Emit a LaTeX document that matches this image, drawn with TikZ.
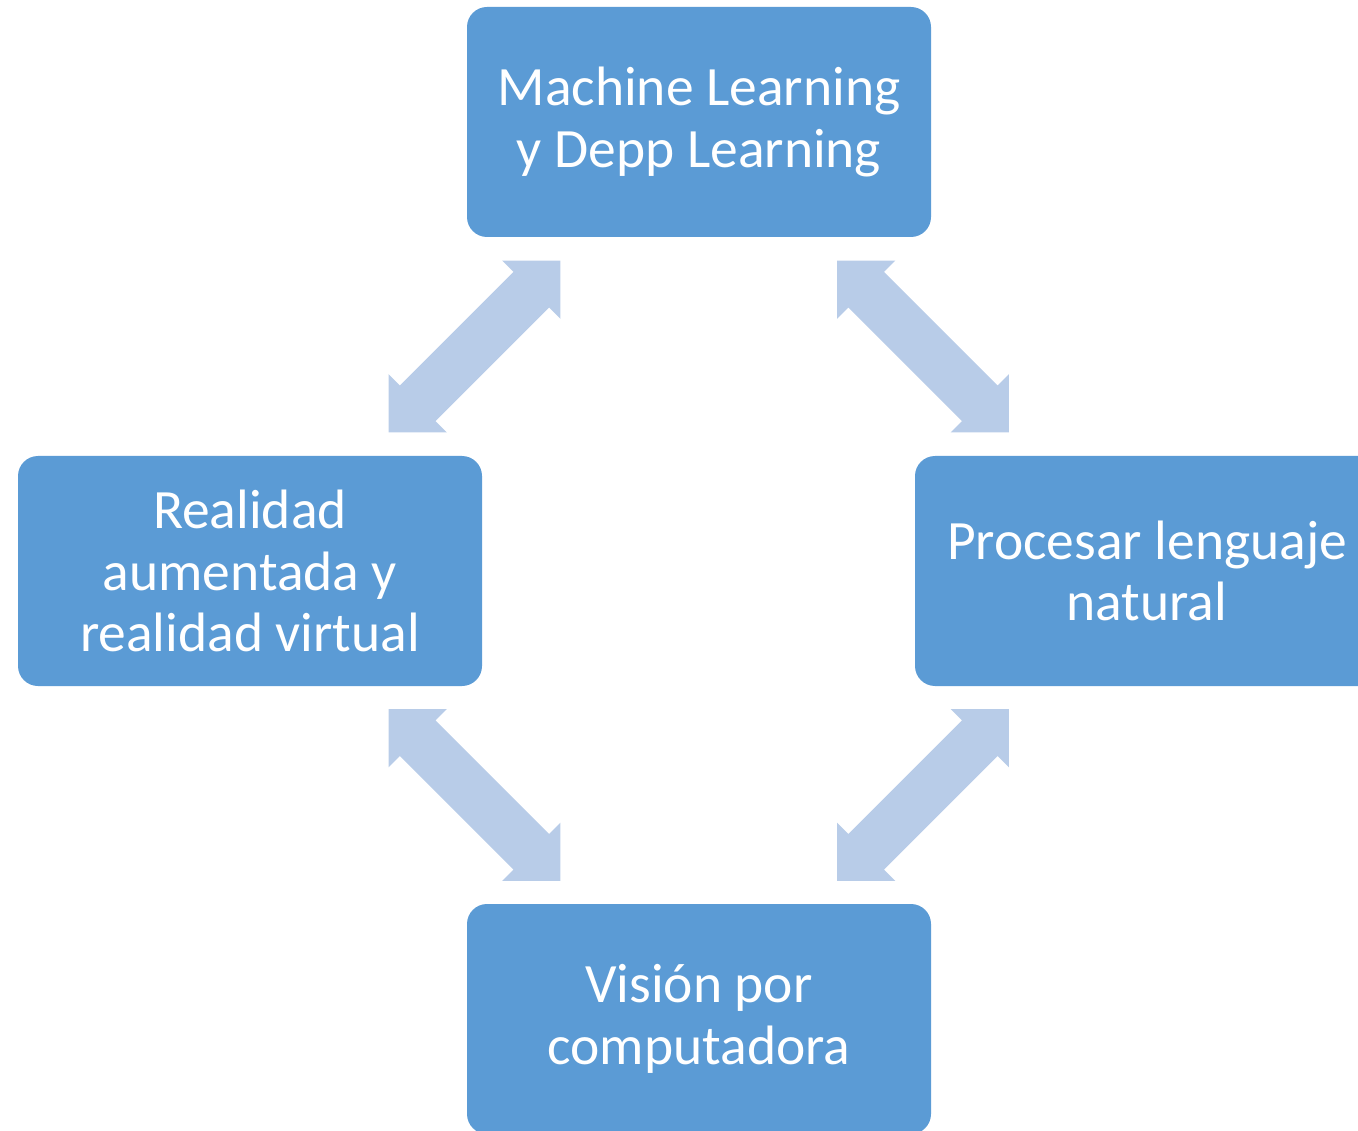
\documentclass[tikz,border=0pt]{standalone}
\usepackage{fontspec}
\setmainfont{Carlito}
\usetikzlibrary{shapes.arrows,calc}
\definecolor{boxblue}{HTML}{5B9BD5}
\definecolor{arrowblue}{HTML}{B8CCE8}
\tikzset{
  box/.style={fill=boxblue, draw=none, rounded corners=20pt,
    minimum width=464pt, minimum height=230pt, inner sep=0pt,
    text=white, align=center, font=\fontsize{55.5}{61.5}\selectfont},
  dblarrow/.style={double arrow, fill=arrowblue, draw=none,
    text height=25pt, text depth=25pt, text width=0pt, minimum height=243pt,
    double arrow head extend=16pt, double arrow tip angle=90, inner sep=0pt}
}
\begin{document}
\begin{tikzpicture}[x=1pt,y=-1pt]
\useasboundingbox (0,0) rectangle (1358,1131);
\clip (0,0) rectangle (1358,1131);
\node[box] (ml) at (699,122) {Machine Learning\\y Depp Learning};
\node[box] (ra) at (250,571) {Realidad\\aumentada y\\realidad virtual};
\node[box] (pl) at (1147,571) {Procesar lenguaje\\natural};
\node[box] (vc) at (699,1019) {Visión por\\computadora};
\node[dblarrow, rotate=45] (a1) at ($(ml)!0.5!(ra)$) {};
\node[dblarrow, rotate=-45] (a2) at ($(ml)!0.5!(pl)$) {};
\node[dblarrow, rotate=-45] (a3) at ($(ra)!0.5!(vc)$) {};
\node[dblarrow, rotate=45] (a4) at ($(pl)!0.5!(vc)$) {};
\end{tikzpicture}
\end{document}
